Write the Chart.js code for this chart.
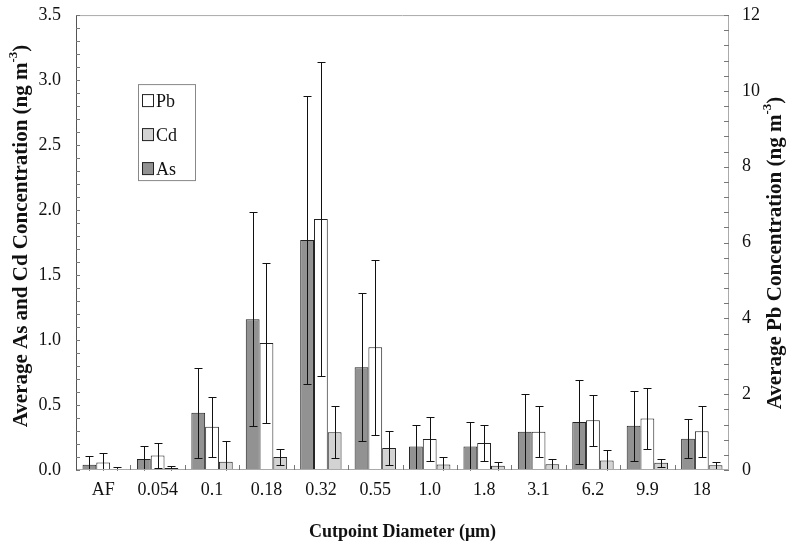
<!DOCTYPE html>
<html>
<head>
<meta charset="utf-8">
<script src="https://cdn.jsdelivr.net/npm/chart.js@4.4.1/dist/chart.umd.min.js"></script>
<style>
html, body { margin:0; padding:0; background:#fff; }
</style>
</head>
<body>
<canvas id="myChart" width="800" height="549"></canvas>
<script>
var sizes = ["AF", "0.054", "0.1", "0.18", "0.32", "0.55", "1.0", "1.8", "3.1", "6.2", "9.9", "18"];

// As and Cd on the left axis, Pb on the right axis (ng m-3)
var asValues = [0.04, 0.085, 0.44, 1.16, 1.77, 0.79, 0.18, 0.18, 0.295, 0.37, 0.34, 0.24];
var asSd     = [0.07, 0.10, 0.345, 0.825, 1.11, 0.57, 0.17, 0.19, 0.29, 0.32, 0.27, 0.15];
var pbValues = [0.2, 0.38, 1.14, 3.35, 6.62, 3.24, 0.82, 0.71, 1.01, 1.31, 1.36, 1.02];
var pbSd     = [0.25, 0.33, 0.79, 2.12, 4.15, 2.31, 0.57, 0.47, 0.67, 0.67, 0.8, 0.68];
var cdValues = [0.008, 0.015, 0.064, 0.10, 0.29, 0.17, 0.042, 0.032, 0.045, 0.073, 0.055, 0.036];
var cdSd     = [0.017, 0.018, 0.156, 0.06, 0.2, 0.13, 0.06, 0.033, 0.04, 0.08, 0.03, 0.027];

var leftTicks = [0, 0.5, 1.0, 1.5, 2.0, 2.5, 3.0, 3.5];
var rightTicks = [0, 2, 4, 6, 8, 10, 12];

var serif = '"Liberation Serif", "Times New Roman", serif';

// error bars drawn from the dataset errors through each y scale
var errorBars = {
  id: 'errorBars',
  afterDatasetsDraw: function(chart) {
    var ctx = chart.ctx;
    chart.data.datasets.forEach(function(ds, i) {
      var meta = chart.getDatasetMeta(i);
      var scale = chart.scales[ds.yAxisID];
      ctx.save();
      ctx.strokeStyle = '#111';
      ctx.lineWidth = 1;
      meta.data.forEach(function(bar, j) {
        var v = ds.data[j], e = ds.errors[j];
        var top = Math.round(scale.getPixelForValue(v + e)) + 0.5;
        var bot = Math.round(scale.getPixelForValue(Math.max(0, v - e))) + 0.5;
        var x = Math.round(bar.x) + 0.5;
        ctx.beginPath();
        ctx.moveTo(x, top); ctx.lineTo(x, bot);
        ctx.moveTo(x - 4, top); ctx.lineTo(x + 4, top);
        if (v - e > 0) { ctx.moveTo(x - 4, bot); ctx.lineTo(x + 4, bot); }
        ctx.stroke();
      });
      ctx.restore();
    });
  }
};

// rotated axis title with a real superscript
function vTitle(ctx, cx, cy, text) {
  var big = 'bold 21px ' + serif, small = 'bold 13px ' + serif;
  ctx.save();
  ctx.translate(cx, cy);
  ctx.rotate(-Math.PI / 2);
  ctx.fillStyle = '#111';
  ctx.textBaseline = 'middle';
  ctx.font = big;
  var w1 = ctx.measureText(text).width, w3 = ctx.measureText(')').width;
  ctx.font = small;
  var w2 = ctx.measureText('-3').width;
  var x0 = -(w1 + w2 + w3) / 2;
  ctx.font = big;
  ctx.fillText(text, x0, 0);
  ctx.font = small;
  ctx.fillText('-3', x0 + w1, -8);
  ctx.font = big;
  ctx.fillText(')', x0 + w1 + w2, 0);
  ctx.restore();
}

// frame, inside tick marks, titles and the boxed legend
var frame = {
  id: 'frame',
  afterDraw: function(chart) {
    var ctx = chart.ctx, a = chart.chartArea;
    var y = chart.scales.y, y2 = chart.scales.y2, x = chart.scales.x;
    ctx.save();
    ctx.lineWidth = 1;
    ctx.strokeStyle = '#aaa';
    ctx.beginPath();
    ctx.moveTo(a.left, a.top + 0.5); ctx.lineTo(a.right, a.top + 0.5);
    ctx.moveTo(a.right - 0.5, a.top); ctx.lineTo(a.right - 0.5, a.bottom);
    ctx.moveTo(a.left, a.bottom - 0.5); ctx.lineTo(a.right, a.bottom - 0.5);
    ctx.stroke();
    ctx.strokeStyle = '#555';
    ctx.beginPath();
    ctx.moveTo(a.left + 0.5, a.top); ctx.lineTo(a.left + 0.5, a.bottom);
    ctx.stroke();

    ctx.strokeStyle = '#777';
    ctx.beginPath();
    for (var k = 0; k <= 35; k++) {
      var py = Math.round(y.getPixelForValue(k / 10)) + 0.5;
      ctx.moveTo(a.left, py); ctx.lineTo(a.left + 4, py);
    }
    for (var m = 0; m <= 30; m++) {
      var qy = Math.round(y2.getPixelForValue(m * 0.4)) + 0.5;
      ctx.moveTo(a.right - 5, qy); ctx.lineTo(a.right, qy);
    }
    for (var t = 1; t < sizes.length; t++) {
      var px = Math.round((x.getPixelForTick(t - 1) + x.getPixelForTick(t)) / 2) + 0.5;
      ctx.moveTo(px, a.bottom); ctx.lineTo(px, a.bottom - 5);
    }
    ctx.stroke();

    vTitle(ctx, 22, 236, 'Average As and Cd Concentration (ng m');
    vTitle(ctx, 776, 253, 'Average Pb Concentration (ng m');

    // legend
    var lx = a.left + 62, ly = a.top + 69;
    ctx.strokeStyle = '#888';
    ctx.strokeRect(lx + 0.5, ly + 0.5, 57, 96);
    var order = [1, 2, 0];
    ctx.font = '18px ' + serif;
    ctx.textBaseline = 'middle';
    order.forEach(function(di, r) {
      var ds = chart.data.datasets[di];
      var cy = ly + 17 + r * 34;
      ctx.fillStyle = ds.backgroundColor;
      ctx.fillRect(lx + 4.5, cy - 6.5, 11, 12);
      ctx.strokeStyle = '#222';
      ctx.strokeRect(lx + 4.5, cy - 6.5, 11, 12);
      ctx.fillStyle = '#111';
      ctx.fillText(ds.label, lx + 18, cy + 1);
    });
    ctx.restore();
  }
};

new Chart(document.getElementById('myChart'), {
  type: 'bar',
  data: {
    labels: sizes,
    datasets: [
      { label: 'As', data: asValues, errors: asSd, yAxisID: 'y', backgroundColor: '#929292', borderColor: '#222', borderWidth: 1, borderSkipped: false },
      { label: 'Pb', data: pbValues, errors: pbSd, yAxisID: 'y2', backgroundColor: '#ffffff', borderColor: '#222', borderWidth: 1, borderSkipped: false },
      { label: 'Cd', data: cdValues, errors: cdSd, yAxisID: 'y', backgroundColor: '#d3d3d3', borderColor: '#222', borderWidth: 1, borderSkipped: false }
    ]
  },
  options: {
    responsive: false,
    animation: false,
    layout: { padding: { top: 0 } },
    datasets: { bar: { categoryPercentage: 0.76, barPercentage: 1 } },
    plugins: { legend: { display: false }, tooltip: { enabled: false } },
    scales: {
      x: {
        grid: { display: false, drawTicks: false },
        border: { display: false },
        ticks: { color: '#111', font: { family: serif, size: 18 }, padding: 9, maxRotation: 0 },
        title: { display: true, text: 'Cutpoint Diameter (μm)', color: '#111', font: { family: serif, size: 18, weight: 'bold' }, padding: { top: 6, bottom: 6 } },
        afterFit: function(s) { s.height = 79; }
      },
      y: {
        position: 'left', min: 0, max: 3.5,
        afterBuildTicks: function(s) { s.ticks = leftTicks.map(function(v) { return { value: v }; }); },
        grid: { display: false, drawTicks: false },
        border: { display: false },
        ticks: { color: '#111', font: { family: serif, size: 18, lineHeight: 0.01 }, padding: 15, callback: function(v) { return Number(v).toFixed(1); } },
        afterFit: function(s) { s.width = 76; }
      },
      y2: {
        position: 'right', min: 0, max: 12,
        afterBuildTicks: function(s) { s.ticks = rightTicks.map(function(v) { return { value: v }; }); },
        grid: { display: false, drawTicks: false },
        border: { display: false },
        ticks: { color: '#111', font: { family: serif, size: 18, lineHeight: 0.01 }, padding: 13 },
        afterFit: function(s) { s.width = 71; }
      }
    }
  },
  plugins: [errorBars, frame]
});
</script>
</body>
</html>
